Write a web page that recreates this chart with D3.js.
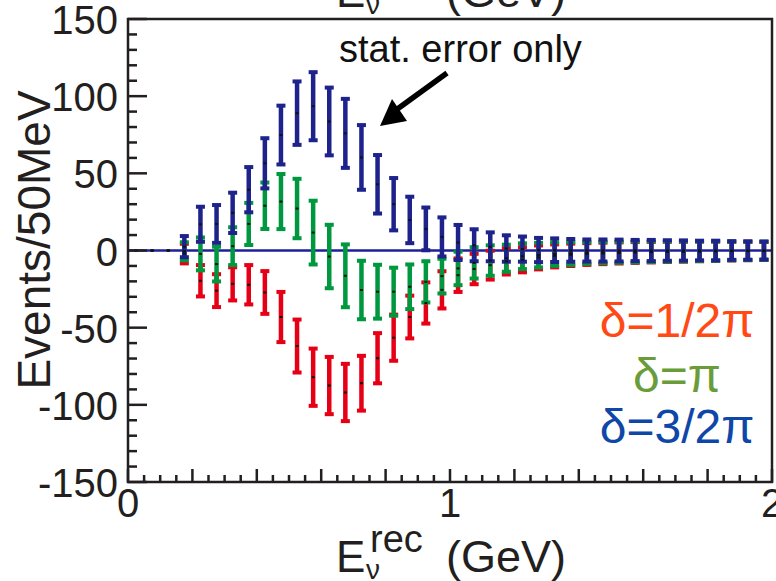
<!DOCTYPE html>
<html>
<head>
<meta charset="utf-8">
<script src="https://cdn.jsdelivr.net/npm/d3@7"></script>
<style>
  body { margin: 0; background: #fff; overflow: hidden; }
  text { font-family: "Liberation Sans", Arial, sans-serif; }
</style>
</head>
<body>
<div id="chart"></div>
<script>
// bin centres of the 50 MeV bins (GeV)
const energy = [0.025, 0.075, 0.125, 0.175, 0.225, 0.275, 0.325, 0.375, 0.425, 0.475,
                0.525, 0.575, 0.625, 0.675, 0.725, 0.775, 0.825, 0.875, 0.925, 0.975,
                1.025, 1.075, 1.125, 1.175, 1.225, 1.275, 1.325, 1.375, 1.425, 1.475,
                1.525, 1.575, 1.625, 1.675, 1.725, 1.775, 1.825, 1.875, 1.925, 1.975];

// delta = 1/2 pi (red)
const halfPi = [0, 0, 0, -2, -19.6, -26, -21.6, -22.2, -27.2, -43.1,
                -61.9, -82.1, -87.5, -92, -86, -69.8, -56.5, -43.1, -34, -25.5,
                -16, -12, -9.5, -7, -6, -4.5, -3.5, -2.8, -2.3, -1.9,
                -1.6, -1.3, -1.1, -0.9, -0.8, -0.6, -0.5, -0.4, -0.3, -0.3];
const halfPiErr = [0, 0, 0, 7, 10.8, 11.3, 11.4, 13.4, 14.5, 16.9,
                   17.8, 19.2, 19.2, 19.2, 18.4, 16.9, 15.6, 14.5, 14, 12.7,
                   11.5, 10.5, 10, 9.2, 8.8, 8.4, 8.1, 7.9, 7.7, 7.6,
                   7.5, 7.4, 7.3, 7.2, 7.1, 7, 6.9, 6.7, 6.6, 6.5];

// delta = pi (green)
const onePi = [0, 0, 0, -0.5, -2.2, -8.8, 2.8, 17.2, 29, 31.7,
               27.2, 11.6, -3.9, -16.4, -25.6, -26.7, -26.7, -23.5, -20.3, -16.6,
               -11.6, -8, -6.5, -5, -3.7, -3, -2.3, -2, -1.6, -1.3,
               -1.1, -0.9, -0.8, -0.7, -0.6, -0.5, -0.4, -0.3, -0.3, -0.2];
const onePiErr = [0, 0, 0, 6.5, 11.3, 11.9, 12.9, 14.3, 15.7, 18.5,
                  19.9, 21.3, 21.2, 21, 19.6, 18.1, 16.2, 15.1, 14, 11.9,
                  11.5, 10.8, 10.5, 9.4, 9, 8.6, 8.3, 8, 7.6, 7.6,
                  7.5, 7.4, 7.3, 7.2, 7.1, 7, 6.9, 6.7, 6.6, 6.5];

// delta = 3/2 pi (blue)
const threeHalfPi = [0, 0, 0, 2.5, 17, 17.2, 24.4, 39.4, 56.5, 74.8,
                     89, 93.5, 83.6, 75.9, 60.3, 42.9, 30, 19.8, 14, 8.8,
                     5.2, 3.4, 2.4, 1.3, 0.9, 0.3, 0.2, 0.1, 0, 0,
                     0, 0, 0, 0, 0, 0, 0, 0, 0, 0];
const threeHalfPiErr = [0, 0, 0, 7.5, 12, 12.9, 13.7, 15.3, 16.9, 19.7,
                        21.2, 22.7, 22.6, 23, 21.6, 19.6, 17.6, 15.7, 14.5, 13.3,
                        12, 11, 10, 9.2, 8.8, 8.5, 8.3, 8, 7.8, 7.8,
                        7.7, 7.5, 7.5, 7.3, 7.2, 7, 7, 6.7, 6.6, 6.5];

const yTickLabels = [-150, -100, -50, 0, 50, 100, 150];
const xTickLabels = [0, 1, 2];
const legendLabels = ["δ=1/2π", "δ=π", "δ=3/2π"];

const width = 776, height = 581;
const frame = { left: 128, right: 772, top: 19, bottom: 482 };
const ink = "#231f20";

const svg = d3.select("#chart").append("svg")
    .attr("width", width)
    .attr("height", height);

const x = d3.scaleLinear().domain([0, 2]).range([frame.left, frame.right]);
const y = d3.scaleLinear().domain([-150, 150]).range([frame.bottom, frame.top]);

// axis title (also the cut-off one of the panel above)
function xTitle(baseline) {
    const g = svg.append("g").attr("fill", ink);
    g.append("text").attr("x", 336).attr("y", baseline)
        .attr("font-size", 44).text("E");
    g.append("text").attr("x", 366).attr("y", baseline + 7)
        .attr("font-size", 28).text("ν");
    g.append("text").attr("x", 370).attr("y", baseline - 20)
        .attr("font-size", 38).text("rec");
    g.append("text").attr("x", 446).attr("y", baseline)
        .attr("font-size", 45).text("(GeV)");
}
xTitle(7);
xTitle(572);

// zero line
svg.append("line")
    .attr("x1", frame.left).attr("x2", frame.right)
    .attr("y1", y(0)).attr("y2", y(0))
    .attr("stroke", "#1c1f9a").attr("stroke-width", 2.5);

const series = [
    { vals: halfPi, errs: halfPiErr, color: "#e60016" },
    { vals: onePi, errs: onePiErr, color: "#00983f" },
    { vals: threeHalfPi, errs: threeHalfPiErr, color: "#1e238c" }
];

series.forEach(s => {
    const pts = energy.map((e, i) => ({ e, v: s.vals[i], err: s.errs[i] }))
        .filter(d => d.err > 0);
    const g = svg.append("g").attr("fill", s.color);
    g.selectAll(".bar").data(pts).enter().append("rect")
        .attr("x", d => x(d.e) - 2.25)
        .attr("y", d => y(d.v + d.err))
        .attr("width", 4.5)
        .attr("height", d => y(d.v - d.err) - y(d.v + d.err));
    g.selectAll(".capTop").data(pts).enter().append("rect")
        .attr("x", d => x(d.e) - 4.5)
        .attr("y", d => y(d.v + d.err) - 1)
        .attr("width", 9).attr("height", 4);
    g.selectAll(".capBot").data(pts).enter().append("rect")
        .attr("x", d => x(d.e) - 4.5)
        .attr("y", d => y(d.v - d.err) - 3)
        .attr("width", 9).attr("height", 4);
});

// central value markers
series.forEach(s => {
    svg.append("g").selectAll("rect")
        .data(energy.map((e, i) => ({ e, v: s.vals[i] })))
        .enter().append("rect")
        .attr("x", d => x(d.e) - 1.5)
        .attr("y", d => y(d.v) - 1)
        .attr("width", 3).attr("height", 2)
        .attr("fill", "#111");
});

// frame
svg.append("rect")
    .attr("x", frame.left).attr("y", frame.top)
    .attr("width", frame.right - frame.left)
    .attr("height", frame.bottom - frame.top)
    .attr("fill", "none").attr("stroke", ink).attr("stroke-width", 2.5);

// y ticks: minor every 10, major every 50
svg.append("g").selectAll("line")
    .data(d3.range(-150, 151, 10))
    .enter().append("line")
    .attr("x1", frame.left)
    .attr("x2", d => frame.left + (d % 50 === 0 ? 19 : 9))
    .attr("y1", d => y(d)).attr("y2", d => y(d))
    .attr("stroke", ink).attr("stroke-width", 2.5);

svg.append("g").selectAll("text")
    .data(yTickLabels)
    .enter().append("text")
    .attr("x", frame.left - 10)
    .attr("y", d => y(d) + 15)
    .attr("text-anchor", "end")
    .attr("font-size", 40)
    .attr("fill", ink)
    .text(d => d);

// x ticks: every 0.05, longer every 0.2
svg.append("g").selectAll("line")
    .data(d3.range(0, 41))
    .enter().append("line")
    .attr("x1", i => x(i * 0.05)).attr("x2", i => x(i * 0.05))
    .attr("y1", frame.bottom)
    .attr("y2", i => frame.bottom - (i % 4 === 0 ? 13 : 7))
    .attr("stroke", ink).attr("stroke-width", 2.5);

svg.append("g").selectAll("text")
    .data(xTickLabels)
    .enter().append("text")
    .attr("x", d => x(d))
    .attr("y", 517)
    .attr("text-anchor", "middle")
    .attr("font-size", 40)
    .attr("fill", ink)
    .text(d => d);

// y axis title
svg.append("text")
    .attr("transform", "translate(50,240) rotate(-90)")
    .attr("text-anchor", "middle")
    .attr("font-size", 46)
    .attr("fill", ink)
    .text("Events/50MeV");

// annotation
svg.append("text")
    .attr("x", 339).attr("y", 62)
    .attr("font-family", "Lato, 'Open Sans', sans-serif")
    .attr("font-size", 38)
    .attr("fill", "#111")
    .text("stat. error only");

svg.append("line")
    .attr("x1", 447).attr("y1", 73)
    .attr("x2", 396).attr("y2", 110)
    .attr("stroke", "#000").attr("stroke-width", 5.5);
svg.append("path")
    .attr("d", "M380,126 L392,99 L407,121 Z")
    .attr("fill", "#000");

// legend
const legendColors = ["#ff4a16", "#6a9c3a", "#0e47a8"];
svg.append("g").selectAll("text")
    .data(legendLabels)
    .enter().append("text")
    .attr("x", 677)
    .attr("y", (d, i) => [337, 392, 443][i])
    .attr("text-anchor", "middle")
    .attr("font-family", "Lato, 'Open Sans', sans-serif")
    .attr("font-size", 48)
    .attr("fill", (d, i) => legendColors[i])
    .text(d => d);
</script>
</body>
</html>
